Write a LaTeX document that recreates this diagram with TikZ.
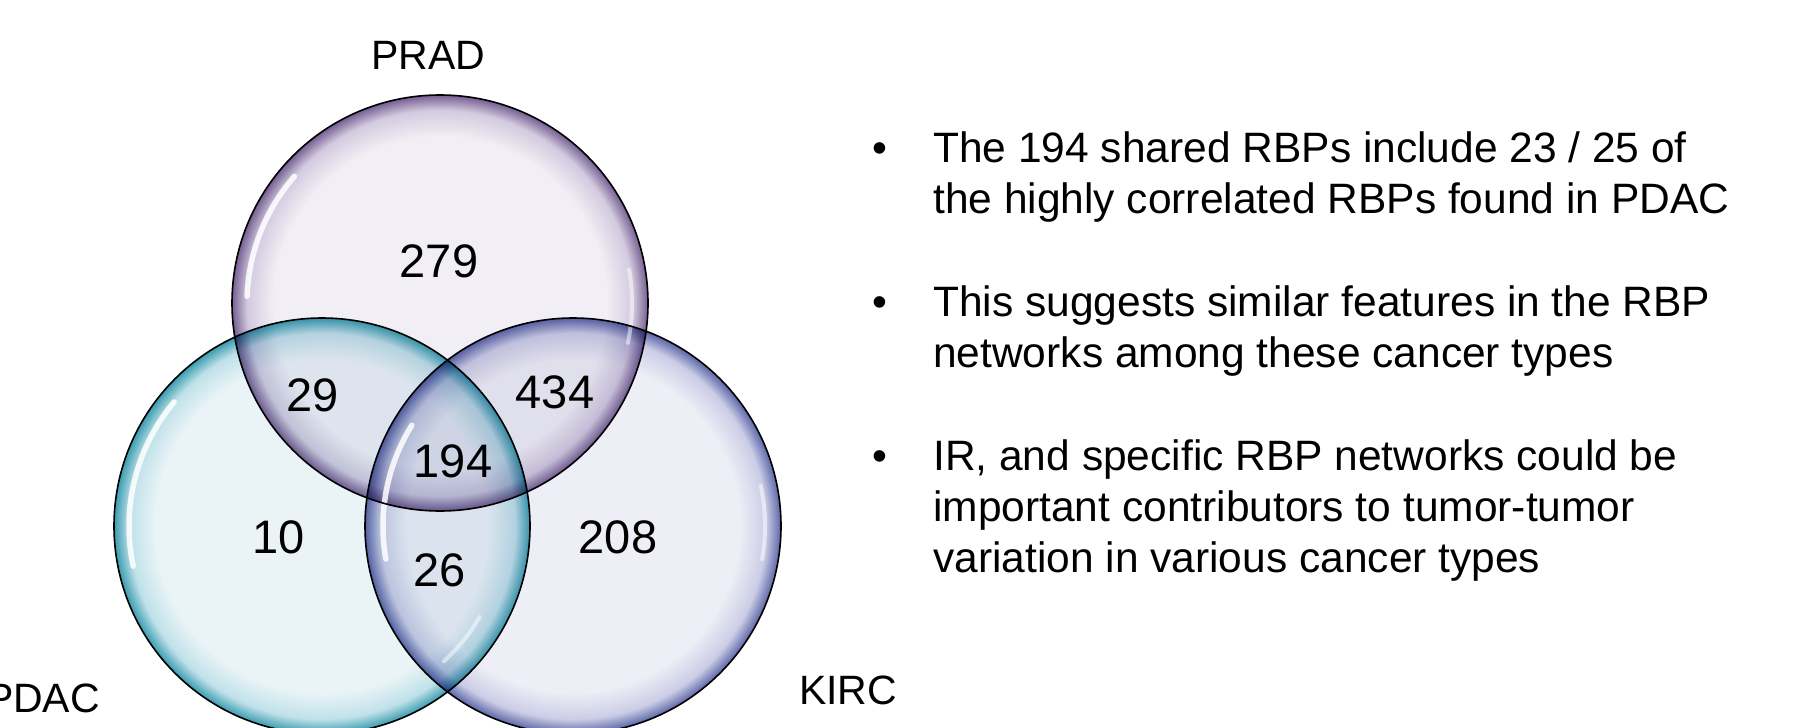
\documentclass[tikz,border=0pt]{standalone}
\usepackage{fontspec}
\setmainfont{Liberation Sans}
\definecolor{pradIn}{HTML}{F1EFF5}
\definecolor{pradMid}{HTML}{D3CADF}
\definecolor{pradOut}{HTML}{755F92}
\definecolor{pdacIn}{HTML}{EAF4F7}
\definecolor{pdacMid}{HTML}{BFE1E9}
\definecolor{pdacOut}{HTML}{3A9CAF}
\definecolor{kircIn}{HTML}{EEEEF6}
\definecolor{kircMid}{HTML}{CBCDE6}
\definecolor{kircOut}{HTML}{5C66A8}
\pgfdeclareradialshading{pradsh}{\pgfpoint{0bp}{0bp}}{color(0bp)=(pradIn); color(20bp)=(pradIn); color(23.2bp)=(pradMid); color(25bp)=(pradOut); color(50bp)=(pradOut)}
\pgfdeclareradialshading{pdacsh}{\pgfpoint{0bp}{0bp}}{color(0bp)=(pdacIn); color(20bp)=(pdacIn); color(23.2bp)=(pdacMid); color(25bp)=(pdacOut); color(50bp)=(pdacOut)}
\pgfdeclareradialshading{kircsh}{\pgfpoint{0bp}{0bp}}{color(0bp)=(kircIn); color(20bp)=(kircIn); color(23.2bp)=(kircMid); color(25bp)=(kircOut); color(50bp)=(kircOut)}
\tikzset{
  hl/.style={white, line width=5.5, opacity=0.85, line cap=round},
  hlfaint/.style={white, line width=4, opacity=0.5, line cap=round},
  rim/.style={black, line width=1.6},
  numlbl/.style={inner sep=0, anchor=center, font=\fontsize{47}{50}\selectfont},
  setlbl/.style={inner sep=0, anchor=center, font=\fontsize{41}{45}\selectfont},
  txtline/.style={inner sep=0, anchor=base west, font=\fontsize{42.5}{50}\selectfont},
  bul/.style={inner sep=0, anchor=base, font=\fontsize{42.5}{50}\selectfont}
}
\begin{document}
\begin{tikzpicture}[x=1pt,y=-1pt]
\fill[white] (0,0) rectangle (1807,728);
\useasboundingbox (0,0) rectangle (1807,728);
\coordinate (cP) at (440,303);
\coordinate (cD) at (322,526);
\coordinate (cK) at (573,526);
\begin{scope}[blend mode=multiply]
  \shade[shading=pradsh] (cP) circle[radius=208];
  \shade[shading=pdacsh] (cD) circle[radius=208];
  \shade[shading=kircsh] (cK) circle[radius=208];
\end{scope}
% highlights
\draw[hl] (cP) ++(-139:193) arc[start angle=-139, end angle=-178, radius=193];
\draw[hlfaint] (cP) ++(12:192) arc[start angle=12, end angle=-10, radius=192];
\draw[hl] (cD) ++(-140:193) arc[start angle=-140, end angle=-192, radius=193];
\draw[hlfaint] (cD) ++(48:182) arc[start angle=48, end angle=30, radius=182];
\draw[hl] (cK) ++(-148:190) arc[start angle=-148, end angle=-190, radius=190];
\draw[hlfaint] (cK) ++(-12:192) arc[start angle=-12, end angle=10, radius=192];
% outlines
\draw[rim] (cP) circle[radius=208];
\draw[rim] (cD) circle[radius=208];
\draw[rim] (cK) circle[radius=208];
% numbers
\node[numlbl] (n279) at (439,261) {279};
\node[numlbl] (n29) at (313,395) {29};
\node[numlbl] (n434) at (555,392) {434};
\node[numlbl] (n194) at (453,461) {194};
\node[numlbl] (n10) at (279,537) {10};
\node[numlbl] (n208) at (618,537) {208};
\node[numlbl] (n26) at (440,570) {26};
% set labels
\node[setlbl] (lPRAD) at (428.5,55) {PRAD};
\node[setlbl] (lKIRC) at (848,690) {KIRC};
\node[setlbl] (lPDAC) at (43,698) {PDAC};
% bullets
\node[bul] (b1) at (880,162) {•};
\node[txtline] (t11) at (933,162) {The 194 shared RBPs include 23 / 25 of};
\node[txtline] (t12) at (933,213) {the highly correlated RBPs found in PDAC};
\node[bul] (b2) at (880,316) {•};
\node[txtline] (t21) at (933,316) {This suggests similar features in the RBP};
\node[txtline] (t22) at (933,367) {networks among these cancer types};
\node[bul] (b3) at (880,470) {•};
\node[txtline] (t31) at (933,470) {IR, and specific RBP networks could be};
\node[txtline] (t32) at (933,521) {important contributors to tumor-tumor};
\node[txtline] (t33) at (933,572) {variation in various cancer types};
\end{tikzpicture}
\end{document}
